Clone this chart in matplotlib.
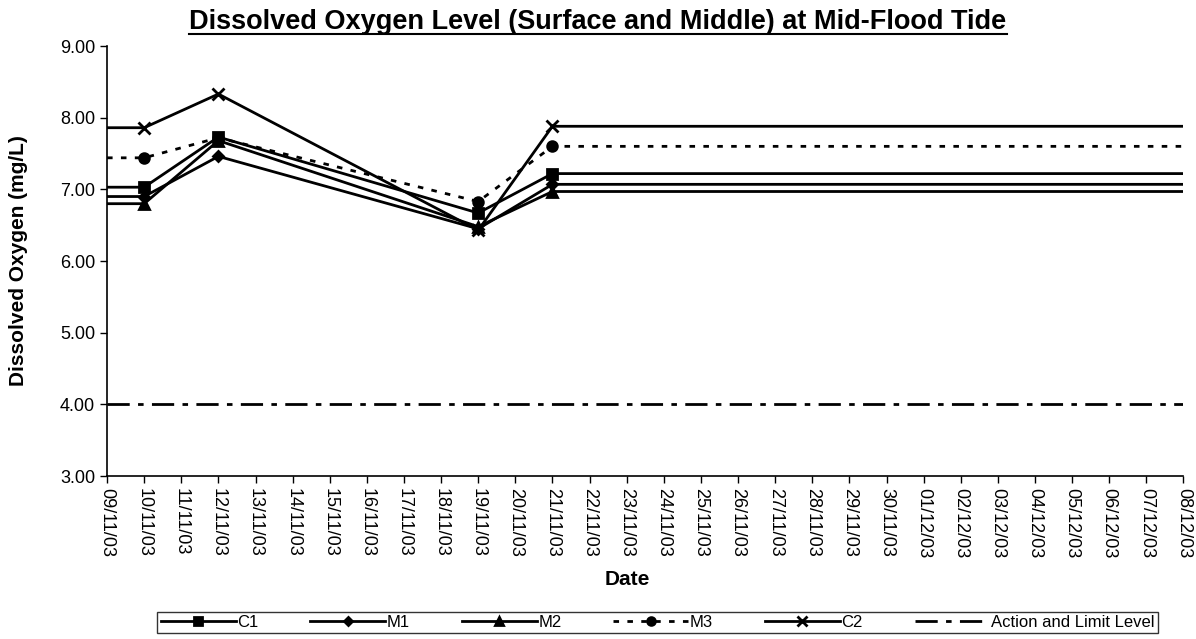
import numpy as np
import matplotlib.pyplot as plt
import matplotlib.dates as mdates
from matplotlib.lines import Line2D
from datetime import date, timedelta

plt.rcParams['font.family'] = ['Liberation Sans', 'DejaVu Sans']

# measurement dates and values
dates = [date(2003, 11, 10), date(2003, 11, 12), date(2003, 11, 19), date(2003, 11, 21)]
c1 = [7.03, 7.73, 6.67, 7.22]
m1 = [6.90, 7.46, 6.45, 7.07]
m2 = [6.80, 7.68, 6.48, 6.97]
m3 = [7.44, 7.72, 6.83, 7.60]
c2 = [7.86, 8.33, 6.43, 7.88]
action_level = 4.00

start = date(2003, 11, 9)
end = date(2003, 12, 8)

fig = plt.figure(figsize=(11.96, 6.39), dpi=100)
ax = fig.add_axes([0.0895, 0.255, 0.9, 0.673])

full_dates = [start] + dates + [end]
series = [
    ('C1', c1, 's', '-', 7),
    ('M1', m1, 'D', '-', 5),
    ('M2', m2, '^', '-', 7),
    ('M3', m3, 'o', (0, (2, 3)), 7),
    ('C2', c2, 'x', '-', 9),
]
for name, vals, mk, ls, ms in series:
    ys = [vals[0]] + vals + [vals[-1]]
    ax.plot(full_dates, ys, color='black', linestyle=ls, linewidth=2,
            marker=mk, markersize=ms, markeredgewidth=2, markevery=[1, 2, 3, 4],
            label=name)

ax.plot([start, end], [action_level, action_level], color='black', linewidth=2,
        linestyle=(0, (8, 3, 2, 3)), label='Action and Limit Level')

ax.set_xlim(start, end)
ax.set_ylim(3, 9)
ax.set_yticks(np.arange(3, 9.01, 1))
ax.yaxis.set_major_formatter(plt.FuncFormatter(lambda v, p: '%.2f' % v))
ticks = [start + timedelta(days=i) for i in range((end - start).days + 1)]
ax.set_xticks(ticks)
ax.xaxis.set_major_formatter(mdates.DateFormatter('%d/%m/%y'))
plt.setp(ax.get_xticklabels(), rotation=270, fontsize=13)
plt.setp(ax.get_yticklabels(), fontsize=13)
ax.tick_params(direction='out', length=5, width=1)

for s in ['top', 'right']:
    ax.spines[s].set_visible(False)
ax.spines['left'].set_linewidth(1.2)
ax.spines['bottom'].set_linewidth(1.2)

ax.set_xlabel('Date', fontsize=15, fontweight='bold')
ax.xaxis.set_label_coords(0.483, -0.218)
ax.set_ylabel('Dissolved Oxygen (mg/L)', fontsize=15, fontweight='bold')
ax.yaxis.set_label_coords(-0.073, 0.5)

title = fig.text(0.5, 0.965, 'Dissolved Oxygen Level (Surface and Middle) at Mid-Flood Tide',
                 ha='center', va='center', fontsize=19.5, fontweight='bold')

leg = fig.legend(loc='center', bbox_to_anchor=(0.55, 0.026), ncol=6, frameon=True,
                 fancybox=False, edgecolor='black', fontsize=12, handlelength=4.5,
                 columnspacing=3.1, handletextpad=0.1, borderpad=0.2,
                 markerscale=0.8)
leg.get_frame().set_linewidth(1)

fig.canvas.draw()
bb = title.get_window_extent().transformed(fig.transFigure.inverted())
fig.add_artist(Line2D([bb.x0, bb.x1], [bb.y0 + 0.002, bb.y0 + 0.002],
                      color='black', linewidth=1.5, transform=fig.transFigure))

fig.savefig('out.png', dpi=100)
